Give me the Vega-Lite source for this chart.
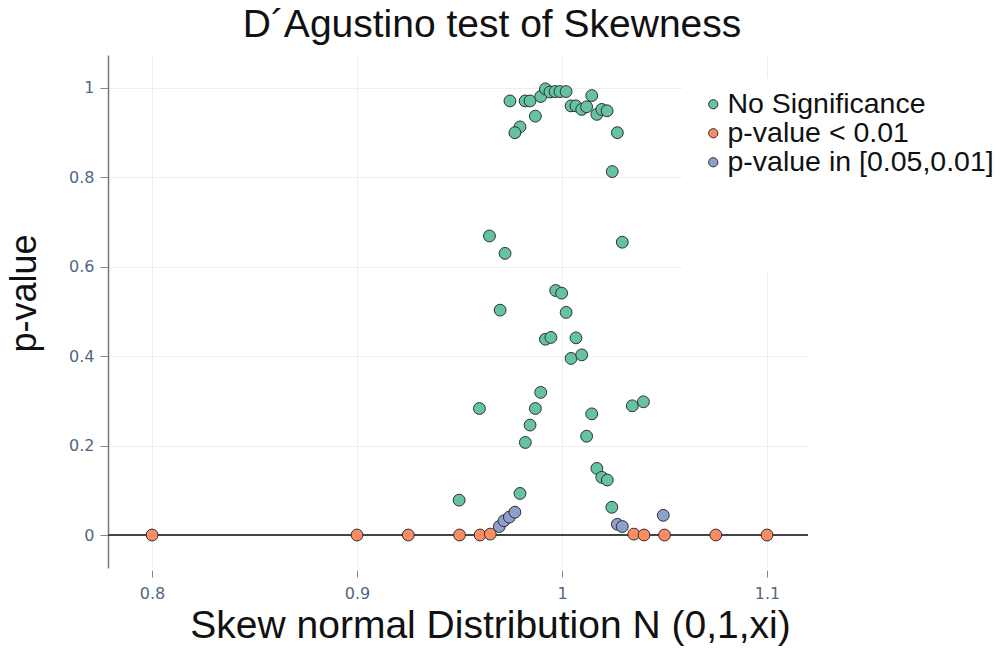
{
  "$schema": "https://vega.github.io/schema/vega-lite/v6.json",
  "width": 700,
  "height": 513,
  "autosize": {"type": "none"},
  "padding": {"left": 108, "top": 55, "right": 194, "bottom": 81},
  "background": "white",
  "config": {"view": {"stroke": null}, "font": "Liberation Sans"},
  "title": {
    "text": "D´Agustino test of Skewness",
    "fontSize": 39,
    "font": "Liberation Sans",
    "fontWeight": "normal",
    "color": "#111111",
    "anchor": "middle",
    "frame": "group",
    "dx": 34,
    "offset": 10
  },
  "data": {
    "values": [
      {"xi": 0.9746, "p": 0.971, "group": "No Significance"},
      {"xi": 0.982, "p": 0.971, "group": "No Significance"},
      {"xi": 0.9844, "p": 0.971, "group": "No Significance"},
      {"xi": 0.9896, "p": 0.981, "group": "No Significance"},
      {"xi": 0.9919, "p": 0.998, "group": "No Significance"},
      {"xi": 0.9941, "p": 0.991, "group": "No Significance"},
      {"xi": 0.9966, "p": 0.992, "group": "No Significance"},
      {"xi": 0.999, "p": 0.992, "group": "No Significance"},
      {"xi": 1.002, "p": 0.992, "group": "No Significance"},
      {"xi": 1.0044, "p": 0.96, "group": "No Significance"},
      {"xi": 1.0068, "p": 0.96, "group": "No Significance"},
      {"xi": 1.0096, "p": 0.952, "group": "No Significance"},
      {"xi": 1.012, "p": 0.958, "group": "No Significance"},
      {"xi": 1.0145, "p": 0.983, "group": "No Significance"},
      {"xi": 1.017, "p": 0.941, "group": "No Significance"},
      {"xi": 1.0194, "p": 0.952, "group": "No Significance"},
      {"xi": 1.022, "p": 0.949, "group": "No Significance"},
      {"xi": 1.027, "p": 0.9, "group": "No Significance"},
      {"xi": 1.0245, "p": 0.813, "group": "No Significance"},
      {"xi": 0.987, "p": 0.937, "group": "No Significance"},
      {"xi": 0.9795, "p": 0.913, "group": "No Significance"},
      {"xi": 0.977, "p": 0.9, "group": "No Significance"},
      {"xi": 0.9646, "p": 0.669, "group": "No Significance"},
      {"xi": 0.9722, "p": 0.63, "group": "No Significance"},
      {"xi": 1.0294, "p": 0.655, "group": "No Significance"},
      {"xi": 0.9969, "p": 0.547, "group": "No Significance"},
      {"xi": 0.9998, "p": 0.541, "group": "No Significance"},
      {"xi": 0.9698, "p": 0.503, "group": "No Significance"},
      {"xi": 1.002, "p": 0.498, "group": "No Significance"},
      {"xi": 0.9919, "p": 0.438, "group": "No Significance"},
      {"xi": 0.9946, "p": 0.442, "group": "No Significance"},
      {"xi": 1.0068, "p": 0.441, "group": "No Significance"},
      {"xi": 1.0044, "p": 0.395, "group": "No Significance"},
      {"xi": 1.0096, "p": 0.403, "group": "No Significance"},
      {"xi": 0.9896, "p": 0.319, "group": "No Significance"},
      {"xi": 0.9597, "p": 0.283, "group": "No Significance"},
      {"xi": 0.987, "p": 0.283, "group": "No Significance"},
      {"xi": 0.9844, "p": 0.246, "group": "No Significance"},
      {"xi": 0.9821, "p": 0.207, "group": "No Significance"},
      {"xi": 1.0145, "p": 0.271, "group": "No Significance"},
      {"xi": 1.012, "p": 0.221, "group": "No Significance"},
      {"xi": 1.0343, "p": 0.289, "group": "No Significance"},
      {"xi": 1.0397, "p": 0.298, "group": "No Significance"},
      {"xi": 1.017, "p": 0.149, "group": "No Significance"},
      {"xi": 1.0194, "p": 0.129, "group": "No Significance"},
      {"xi": 1.0221, "p": 0.123, "group": "No Significance"},
      {"xi": 1.0243, "p": 0.062, "group": "No Significance"},
      {"xi": 0.9498, "p": 0.078, "group": "No Significance"},
      {"xi": 0.9795, "p": 0.093, "group": "No Significance"},
      {"xi": 0.8, "p": 0.0, "group": "p-value < 0.01"},
      {"xi": 0.9, "p": 0.0, "group": "p-value < 0.01"},
      {"xi": 0.925, "p": 0.0, "group": "p-value < 0.01"},
      {"xi": 0.95, "p": 0.0, "group": "p-value < 0.01"},
      {"xi": 0.96, "p": 0.0, "group": "p-value < 0.01"},
      {"xi": 0.965, "p": 0.002, "group": "p-value < 0.01"},
      {"xi": 1.035, "p": 0.002, "group": "p-value < 0.01"},
      {"xi": 1.04, "p": 0.0, "group": "p-value < 0.01"},
      {"xi": 1.05, "p": 0.0, "group": "p-value < 0.01"},
      {"xi": 1.075, "p": 0.0, "group": "p-value < 0.01"},
      {"xi": 1.1, "p": 0.0, "group": "p-value < 0.01"},
      {"xi": 0.9694, "p": 0.019, "group": "p-value in [0.05,0.01]"},
      {"xi": 0.9717, "p": 0.032, "group": "p-value in [0.05,0.01]"},
      {"xi": 0.9743, "p": 0.04, "group": "p-value in [0.05,0.01]"},
      {"xi": 0.977, "p": 0.051, "group": "p-value in [0.05,0.01]"},
      {"xi": 1.027, "p": 0.024, "group": "p-value in [0.05,0.01]"},
      {"xi": 1.0294, "p": 0.019, "group": "p-value in [0.05,0.01]"},
      {"xi": 1.0494, "p": 0.044, "group": "p-value in [0.05,0.01]"}
    ]
  },
  "layer": [
    {
      "mark": {"type": "rule", "color": "#444444", "strokeWidth": 1.5},
      "encoding": {"y": {"datum": 0, "type": "quantitative", "scale": {"domain": [-0.0738, 1.0738], "nice": false, "zero": false}}}
    },
    {
      "mark": {"type": "point", "filled": true, "shape": "circle", "size": 140, "stroke": "#2f2f2f", "strokeWidth": 1, "opacity": 1},
      "encoding": {
        "x": {
          "field": "xi",
          "type": "quantitative",
          "scale": {"domain": [0.7785, 1.12], "nice": false, "zero": false},
          "axis": {
            "values": [0.8, 0.9, 1, 1.1],
            "format": "~g",
            "domain": false,
            "ticks": true,
            "tickSize": 7,
            "tickColor": "#888888",
            "offset": 2,
            "grid": true,
            "gridColor": "#eeeeee",
            "gridWidth": 1,
            "labelFont": "DejaVu Sans",
            "labelFontSize": 16,
            "labelColor": "#506784",
            "labelPadding": 8,
            "title": "Skew normal Distribution N (0,1,xi)",
            "titleFont": "Liberation Sans",
            "titleFontSize": 39,
            "titleFontWeight": "normal",
            "titleColor": "#111111",
            "titleX": 382,
            "titleY": 67,
            "titleAnchor": "middle",
            "titleAlign": "center",
            "titleBaseline": "alphabetic"
          }
        },
        "y": {
          "field": "p",
          "type": "quantitative",
          "scale": {"domain": [-0.0738, 1.0738], "nice": false, "zero": false},
          "axis": {
            "values": [0, 0.2, 0.4, 0.6, 0.8, 1],
            "format": "~g",
            "domain": true,
            "domainColor": "#777777",
            "domainWidth": 1.5,
            "ticks": true,
            "tickSize": 8,
            "tickColor": "#888888",
            "grid": true,
            "gridColor": "#eeeeee",
            "gridWidth": 1,
            "labelFont": "DejaVu Sans",
            "labelFontSize": 16,
            "labelColor": "#506784",
            "labelPadding": 6,
            "title": "p-value",
            "titleFont": "Liberation Sans",
            "titleFontSize": 36,
            "titleFontWeight": "normal",
            "titleColor": "#111111",
            "titleAngle": -90,
            "titleX": -84,
            "titleY": 238,
            "titleAlign": "center",
            "titleBaseline": "middle"
          }
        },
        "color": {
          "field": "group",
          "type": "nominal",
          "scale": {
            "domain": ["No Significance", "p-value < 0.01", "p-value in [0.05,0.01]"],
            "range": ["#66c2a5", "#fc8d62", "#8da0cb"]
          },
          "legend": {
            "orient": "none",
            "legendX": 574,
            "legendY": 23,
            "fillColor": "white",
            "padding": 12,
            "symbolOffset": 5,
            "symbolType": "circle",
            "symbolSize": 85,
            "symbolStrokeColor": "#2f2f2f",
            "symbolStrokeWidth": 1,
            "labelFont": "Liberation Sans",
            "labelFontSize": 28.5,
            "labelColor": "#111111",
            "labelOffset": 0,
            "labelLimit": 400,
            "rowPadding": 0,
            "title": " ",
            "titleOrient": "bottom",
            "titleFontSize": 27,
            "titlePadding": 56
          }
        }
      }
    }
  ]
}
